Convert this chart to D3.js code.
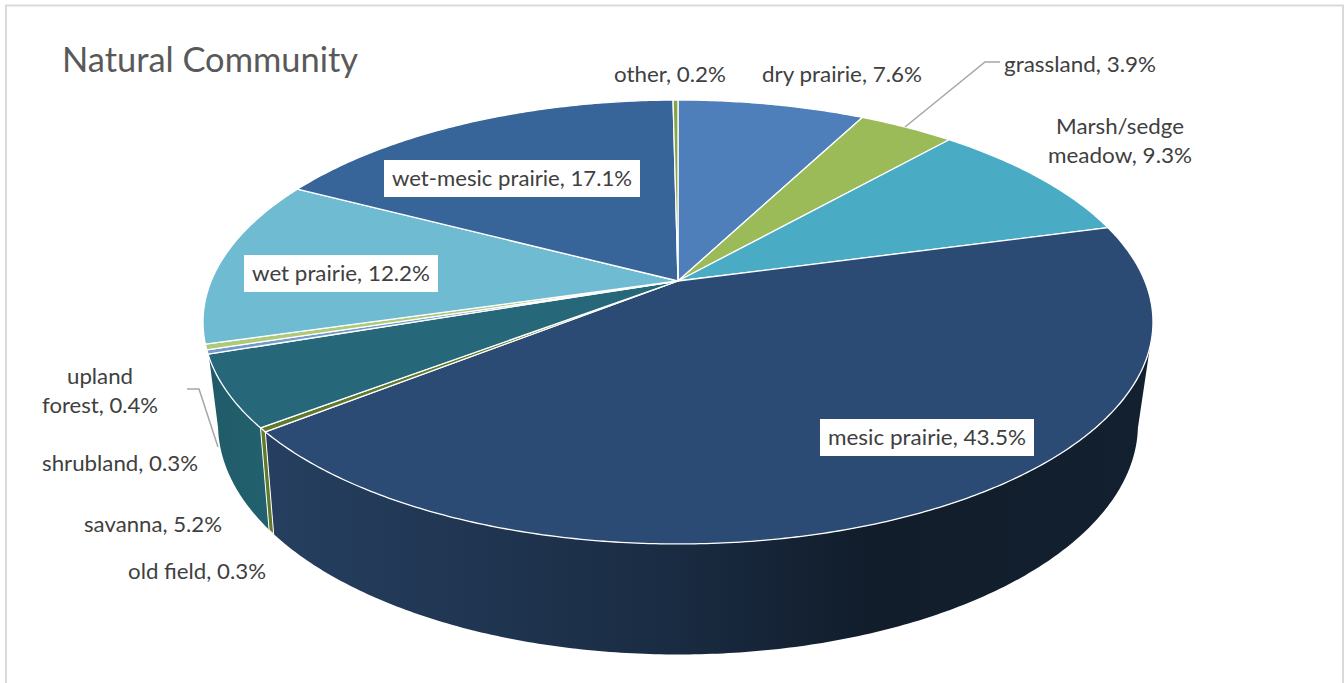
<!DOCTYPE html>
<html><head><meta charset="utf-8">
<script src="https://cdnjs.cloudflare.com/ajax/libs/d3/7.8.5/d3.min.js"></script>
<style>html,body{margin:0;padding:0;background:#fff}svg{display:block}text{font-family:Lato,"Open Sans",sans-serif}</style>
</head><body><svg id="c" width="1344" height="683"></svg>
<script>
// data (clockwise from 12 o'clock)
const categories = ["dry prairie","grassland","Marsh/sedge meadow","mesic prairie","old field","savanna","shrubland","upland forest","wet prairie","wet-mesic prairie","other"];
const values = [7.6,3.9,9.3,43.5,0.3,5.2,0.3,0.4,12.2,17.1,0.2];
const colors = ["#4e7fba","#9bbb59","#4aabc5","#2b4b74","#5f7a2e","#26687a","#729aca","#afc97a","#6fbbd2","#376599","#84a548"];
const title = "Natural Community";

// label layout: [index, lines, centre x, first baseline, widths per line, boxed]
const labelLayout = [
 [0,["dry prairie, 7.6%"],842,82,[160],false],
 [1,["grassland, 3.9%"],1080,72,[152],false],
 [2,["Marsh/sedge","meadow, 9.3%"],1120,134,[128,144],false],
 [3,["mesic prairie, 43.5%"],927,445,[198],true],
 [4,["old field, 0.3%"],197,579,[138],false],
 [5,["savanna, 5.2%"],153,532,[138],false],
 [6,["shrubland, 0.3%"],120,471,[156],false],
 [7,["upland","forest, 0.4%"],100,384,[66,116],false],
 [8,["wet prairie, 12.2%"],341,281,[178],true],
 [9,["wet-mesic prairie, 17.1%"],512,186,[240],true],
 [10,["other, 0.2%"],670,82,[112],false]
];
const leaders = [
 [[905,127],[985,62],[1000,62]],
 [[187,389],[199,389],[218,447]]
];

const svg = d3.select("#c");
const pie = d3.pie().sort(null).value(d=>d).startAngle(0).endAngle(2*Math.PI);
const arcs = pie(values);

// perspective disks
const topDisk = {cx:678, cy:281, A:214.4, B:466.8, k:0.1847};
const botDisk = {cx:678, cy:376, A:220, B:449.7, k:0.21};
function proj(d,a){const u=Math.sin(a),v=-Math.cos(a),w=1-d.k*v;return [d.cx+d.B*u/w,d.cy+d.A*v/w];}
const line = d3.line();
function sample(d,a0,a1){const n=Math.max(2,Math.ceil(Math.abs(a1-a0)/0.01));return d3.range(n+1).map(i=>proj(d,a0+(a1-a0)*i/n));}
const deg = x=>x*Math.PI/180;

// frame
svg.append("path").attr("d","M6,683V5.5H1343V683").attr("fill","none").attr("stroke","#d9d9d9").attr("stroke-width",2);

// gradients
const defs = svg.append("defs");
function grad(id,x1,x2,stops){const g=defs.append("linearGradient").attr("id",id).attr("gradientUnits","userSpaceOnUse").attr("x1",x1).attr("x2",x2).attr("y1",0).attr("y2",0);
 stops.forEach(s=>g.append("stop").attr("offset",s[0]).attr("stop-color",s[1]));}
grad("gMesic",270,1150,[[0,"#263f60"],[0.45,"#1a2c43"],[0.68,"#111d2b"],[1,"#13202f"]]);
grad("gSav",207,275,[[0,"#1f5a67"],[1,"#24626f"]]);

// walls
const a = arcs;
const mesic=a[3], old=a[4], sav=a[5];
function wall(t0,t1,b1,b0,fill,stroke){
  const pts = sample(topDisk,t0,t1).concat(sample(botDisk,b1,b0));
  svg.append("path").attr("d",line(pts)+"Z").attr("fill",fill).attr("stroke",stroke||"none").attr("stroke-width",1);
}
const botAngle = t=>t-deg(0.1);
wall(deg(106.9),mesic.endAngle,botAngle(mesic.endAngle),deg(103),"url(#gMesic)");
wall(sav.startAngle,deg(250.5),deg(257),botAngle(sav.startAngle),"url(#gSav)");
wall(old.startAngle,old.endAngle,botAngle(old.endAngle),botAngle(old.startAngle),colors[4],"#fff");

// top slices
svg.append("g").selectAll("path").data(arcs).join("path")
  .attr("d",d=>line([[topDisk.cx,topDisk.cy]].concat(sample(topDisk,d.startAngle,d.endAngle)))+"Z")
  .attr("fill",(d,i)=>colors[i]).attr("stroke","#fff").attr("stroke-width",1.3).attr("stroke-linejoin","round");

// leader lines
svg.append("g").selectAll("path").data(leaders).join("path").attr("d",d=>line(d)).attr("fill","none").attr("stroke","#a6a6a6").attr("stroke-width",1.5);

// title
svg.append("text").attr("x",62).attr("y",72).attr("font-size",34).attr("fill","#595959").attr("textLength",296).attr("lengthAdjust","spacingAndGlyphs").text(title);

// labels
const lh = 29;
labelLayout.forEach(([i,lines,cx,y,w,boxed])=>{
  if(boxed){const pw=Math.max(...w);svg.append("rect").attr("x",cx-pw/2-8).attr("y",y-26).attr("width",pw+16).attr("height",37).attr("fill","#fff");}
  lines.forEach((t,j)=>{
    svg.append("text").attr("x",cx-w[j]/2).attr("y",y+j*lh).attr("font-size",22).attr("fill","#404040")
      .attr("textLength",w[j]).attr("lengthAdjust","spacingAndGlyphs").text(t);
  });
});
</script></body></html>
